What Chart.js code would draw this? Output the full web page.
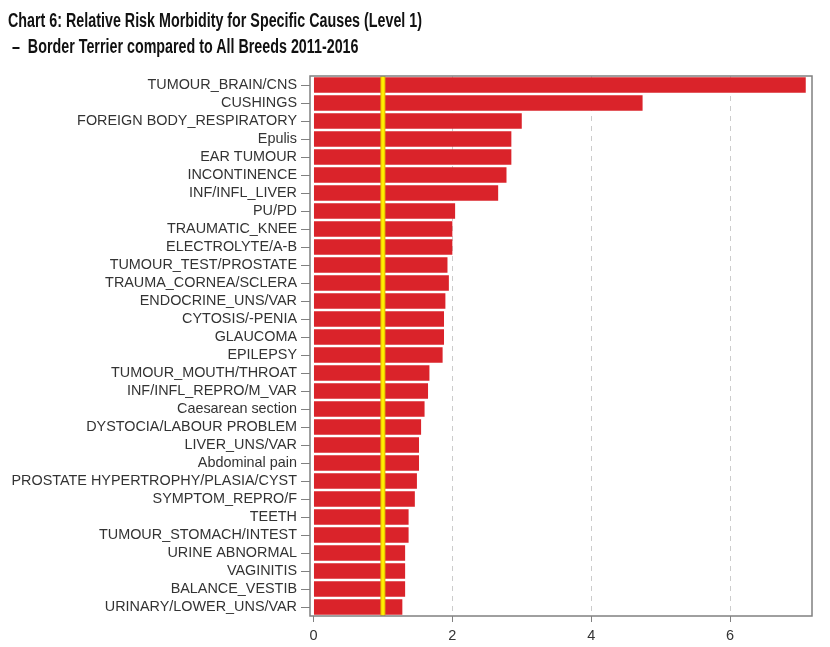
<!DOCTYPE html>
<html>
<head>
<meta charset="utf-8">
<script src="https://cdn.jsdelivr.net/npm/chart.js@4"></script>
<style>
  html, body { margin: 0; padding: 0; background: #fff; }
  #wrap { position: relative; width: 830px; height: 647px; }
  #chart { position: absolute; left: 0; top: 0; }
  .title {
    position: absolute; left: 8px; white-space: nowrap;
    font-family: "Liberation Sans", Arial, sans-serif; font-weight: bold;
    font-size: 20px; color: #111; transform-origin: left top;
    transform: scaleX(0.715);
  }
</style>
</head>
<body>
<div id="wrap">
  <canvas id="chart" width="830" height="647"></canvas>
  <div class="title" style="top:9px">Chart 6: Relative Risk Morbidity for Specific Causes (Level 1)</div>
  <div class="title" style="top:35px">&nbsp;–&nbsp; Border Terrier compared to All Breeds 2011-2016</div>
</div>
<script>
const causes = [
  "TUMOUR_BRAIN/CNS", "CUSHINGS", "FOREIGN BODY_RESPIRATORY", "Epulis", "EAR TUMOUR",
  "INCONTINENCE", "INF/INFL_LIVER", "PU/PD", "TRAUMATIC_KNEE", "ELECTROLYTE/A-B",
  "TUMOUR_TEST/PROSTATE", "TRAUMA_CORNEA/SCLERA", "ENDOCRINE_UNS/VAR", "CYTOSIS/-PENIA", "GLAUCOMA",
  "EPILEPSY", "TUMOUR_MOUTH/THROAT", "INF/INFL_REPRO/M_VAR", "Caesarean section", "DYSTOCIA/LABOUR PROBLEM",
  "LIVER_UNS/VAR", "Abdominal pain", "PROSTATE HYPERTROPHY/PLASIA/CYST", "SYMPTOM_REPRO/F", "TEETH",
  "TUMOUR_STOMACH/INTEST", "URINE ABNORMAL", "VAGINITIS", "BALANCE_VESTIB", "URINARY/LOWER_UNS/VAR"
];
const relativeRisk = [
  7.09, 4.74, 3.00, 2.85, 2.85,
  2.78, 2.66, 2.04, 2.00, 2.00,
  1.93, 1.95, 1.90, 1.88, 1.88,
  1.86, 1.67, 1.65, 1.60, 1.55,
  1.52, 1.52, 1.49, 1.46, 1.37,
  1.37, 1.32, 1.32, 1.32, 1.28
];
const xTicks = [0, 2, 4, 6];
const referenceRisk = 1;

// frame around the plot + yellow line at RR = 1
const framePlugin = {
  id: "frame",
  afterDatasetsDraw(chart) {
    const { ctx, chartArea: a, scales } = chart;
    const x = scales.x.getPixelForValue(referenceRisk);
    ctx.save();
    ctx.strokeStyle = "#e0b800";
    ctx.lineWidth = 5;
    ctx.beginPath(); ctx.moveTo(x, a.top); ctx.lineTo(x, a.bottom); ctx.stroke();
    ctx.strokeStyle = "#ffee00";
    ctx.lineWidth = 3;
    ctx.beginPath(); ctx.moveTo(x, a.top); ctx.lineTo(x, a.bottom); ctx.stroke();
    ctx.strokeStyle = "#808080";
    ctx.lineWidth = 1.5;
    ctx.strokeRect(a.left, a.top, a.right - a.left, a.bottom - a.top);
    ctx.restore();
  }
};

new Chart(document.getElementById("chart").getContext("2d"), {
  type: "bar",
  data: {
    labels: causes,
    datasets: [{
      data: relativeRisk,
      backgroundColor: "#da232a",
      borderWidth: 0,
      categoryPercentage: 1,
      barPercentage: 0.85
    }]
  },
  options: {
    indexAxis: "y",
    responsive: false,
    animation: false,
    layout: { padding: { top: 76, right: 18, left: 0, bottom: 0 } },
    plugins: { legend: { display: false }, tooltip: { enabled: false } },
    scales: {
      x: {
        min: -0.05,
        max: 7.18,
        afterFit: s => { s.height = 31; },
        afterBuildTicks: s => { s.ticks = xTicks.map(v => ({ value: v })); },
        ticks: { font: { family: "Liberation Sans", size: 14.5 }, color: "#333", padding: 5 },
        grid: {
          color: ctx => (ctx.tick && ctx.tick.value === 0 ? "rgba(0,0,0,0)" : "#cccccc"),
          tickColor: "#808080",
          tickLength: 6,
          lineWidth: 1
        },
        border: { display: false, dash: [5, 5] }
      },
      y: {
        afterFit: s => { s.width = 310; },
        ticks: { font: { family: "Liberation Sans", size: 14.4 }, color: "#333", padding: 4, autoSkip: false },
        grid: { offset: false, drawOnChartArea: false, tickColor: "#808080", tickLength: 9 },
        border: { display: false }
      }
    }
  },
  plugins: [framePlugin]
});
</script>
</body>
</html>
